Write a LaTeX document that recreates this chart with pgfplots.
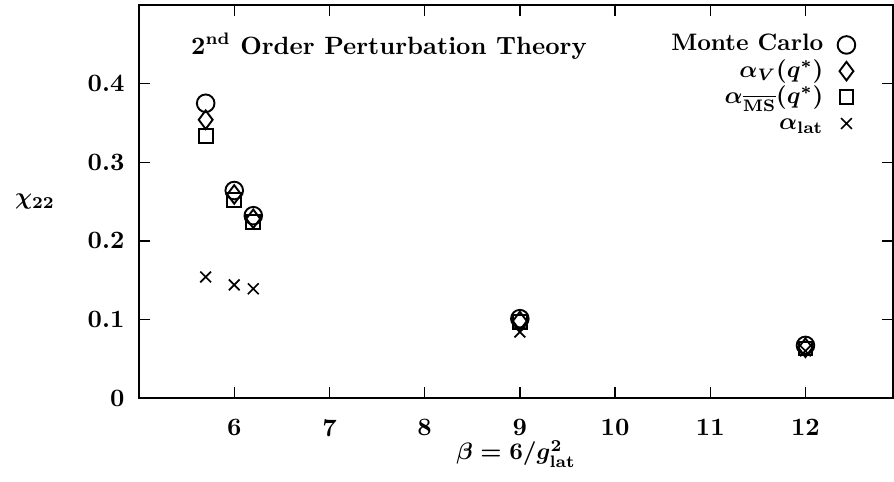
\documentclass[border=0pt]{standalone}
\usepackage{pgfplots}
\pgfplotsset{compat=1.18}

\begin{document}
\begin{tikzpicture}
\begin{axis}[
  scale only axis,
  width=316.7pt, height=165.1pt,
  xmin=5, xmax=12.92, ymin=0, ymax=0.5,
  xtick={6,7,8,9,10,11,12},
  ytick={0,0.1,0.2,0.3,0.4},
  yticklabels={0,0.1,0.2,0.3,0.4},
  tick align=inside,
  major tick length=4.5pt,
  axis line style={line width=0.8pt},
  every tick/.style={black, line width=0.6pt},
  tick label style={font=\fontsize{10.5}{12}\selectfont\bfseries, /pgf/number format/assume math mode=true},
  xticklabel style={yshift=-5.5pt},
  yticklabel style={xshift=-2.6pt},
  xlabel={$\beta = 6/g^2_{\mathbf{lat}}$},
  xlabel style={font=\boldmath, at={(axis description cs:0.5,-0.142)}, anchor=center},
  ylabel={$\chi_{22}$},
  ylabel style={font=\boldmath, rotate=-90, at={(axis description cs:-0.138,0.5)}, anchor=center},
  legend style={draw=none, fill=none, font=\bfseries\boldmath,
    at={(axis description cs:0.96,0.945)}, anchor=north east,
    column sep=4pt, row sep=0pt,
    nodes={text height=7.5pt, text depth=2.5pt, inner ysep=0.5pt}},
  legend cell align=right,
  legend plot pos=right,
]
\addplot[only marks, mark=o, mark size=3.7pt, mark options={line width=0.8pt}] coordinates
  {(5.7,0.375)(6.0,0.264)(6.2,0.232)(9.0,0.101)(12.0,0.067)};
\addlegendentry{Monte Carlo}
\addplot[only marks, mark=diamond, mark size=3.9pt, mark options={line width=0.8pt}] coordinates
  {(5.7,0.354)(6.0,0.259)(6.2,0.228)(9.0,0.098)(12.0,0.064)};
\addlegendentry{$\alpha_V(q^*)$}
\addplot[only marks, mark=square, mark size=2.9pt, mark options={line width=0.8pt}] coordinates
  {(5.7,0.333)(6.0,0.252)(6.2,0.224)(9.0,0.097)(12.0,0.063)};
\addlegendentry{$\alpha_{\overline{\mathbf{MS}}}(q^*)$}
\addplot[only marks, mark=x, mark size=3.2pt, mark options={line width=0.7pt}] coordinates
  {(5.7,0.154)(6.0,0.144)(6.2,0.139)(9.0,0.084)(12.0,0.060)};
\addlegendentry{$\alpha_{\mathbf{lat}}$}
\node[anchor=west, font=\fontsize{10.5}{12}\selectfont\bfseries] at (axis description cs:0.058,0.895)
  {2$^{\mathbf{nd}}$ Order Perturbation Theory};
\end{axis}
\path (-58.4pt,-34.9pt) rectangle (317.1pt,167.2pt);
\end{tikzpicture}
\end{document}
